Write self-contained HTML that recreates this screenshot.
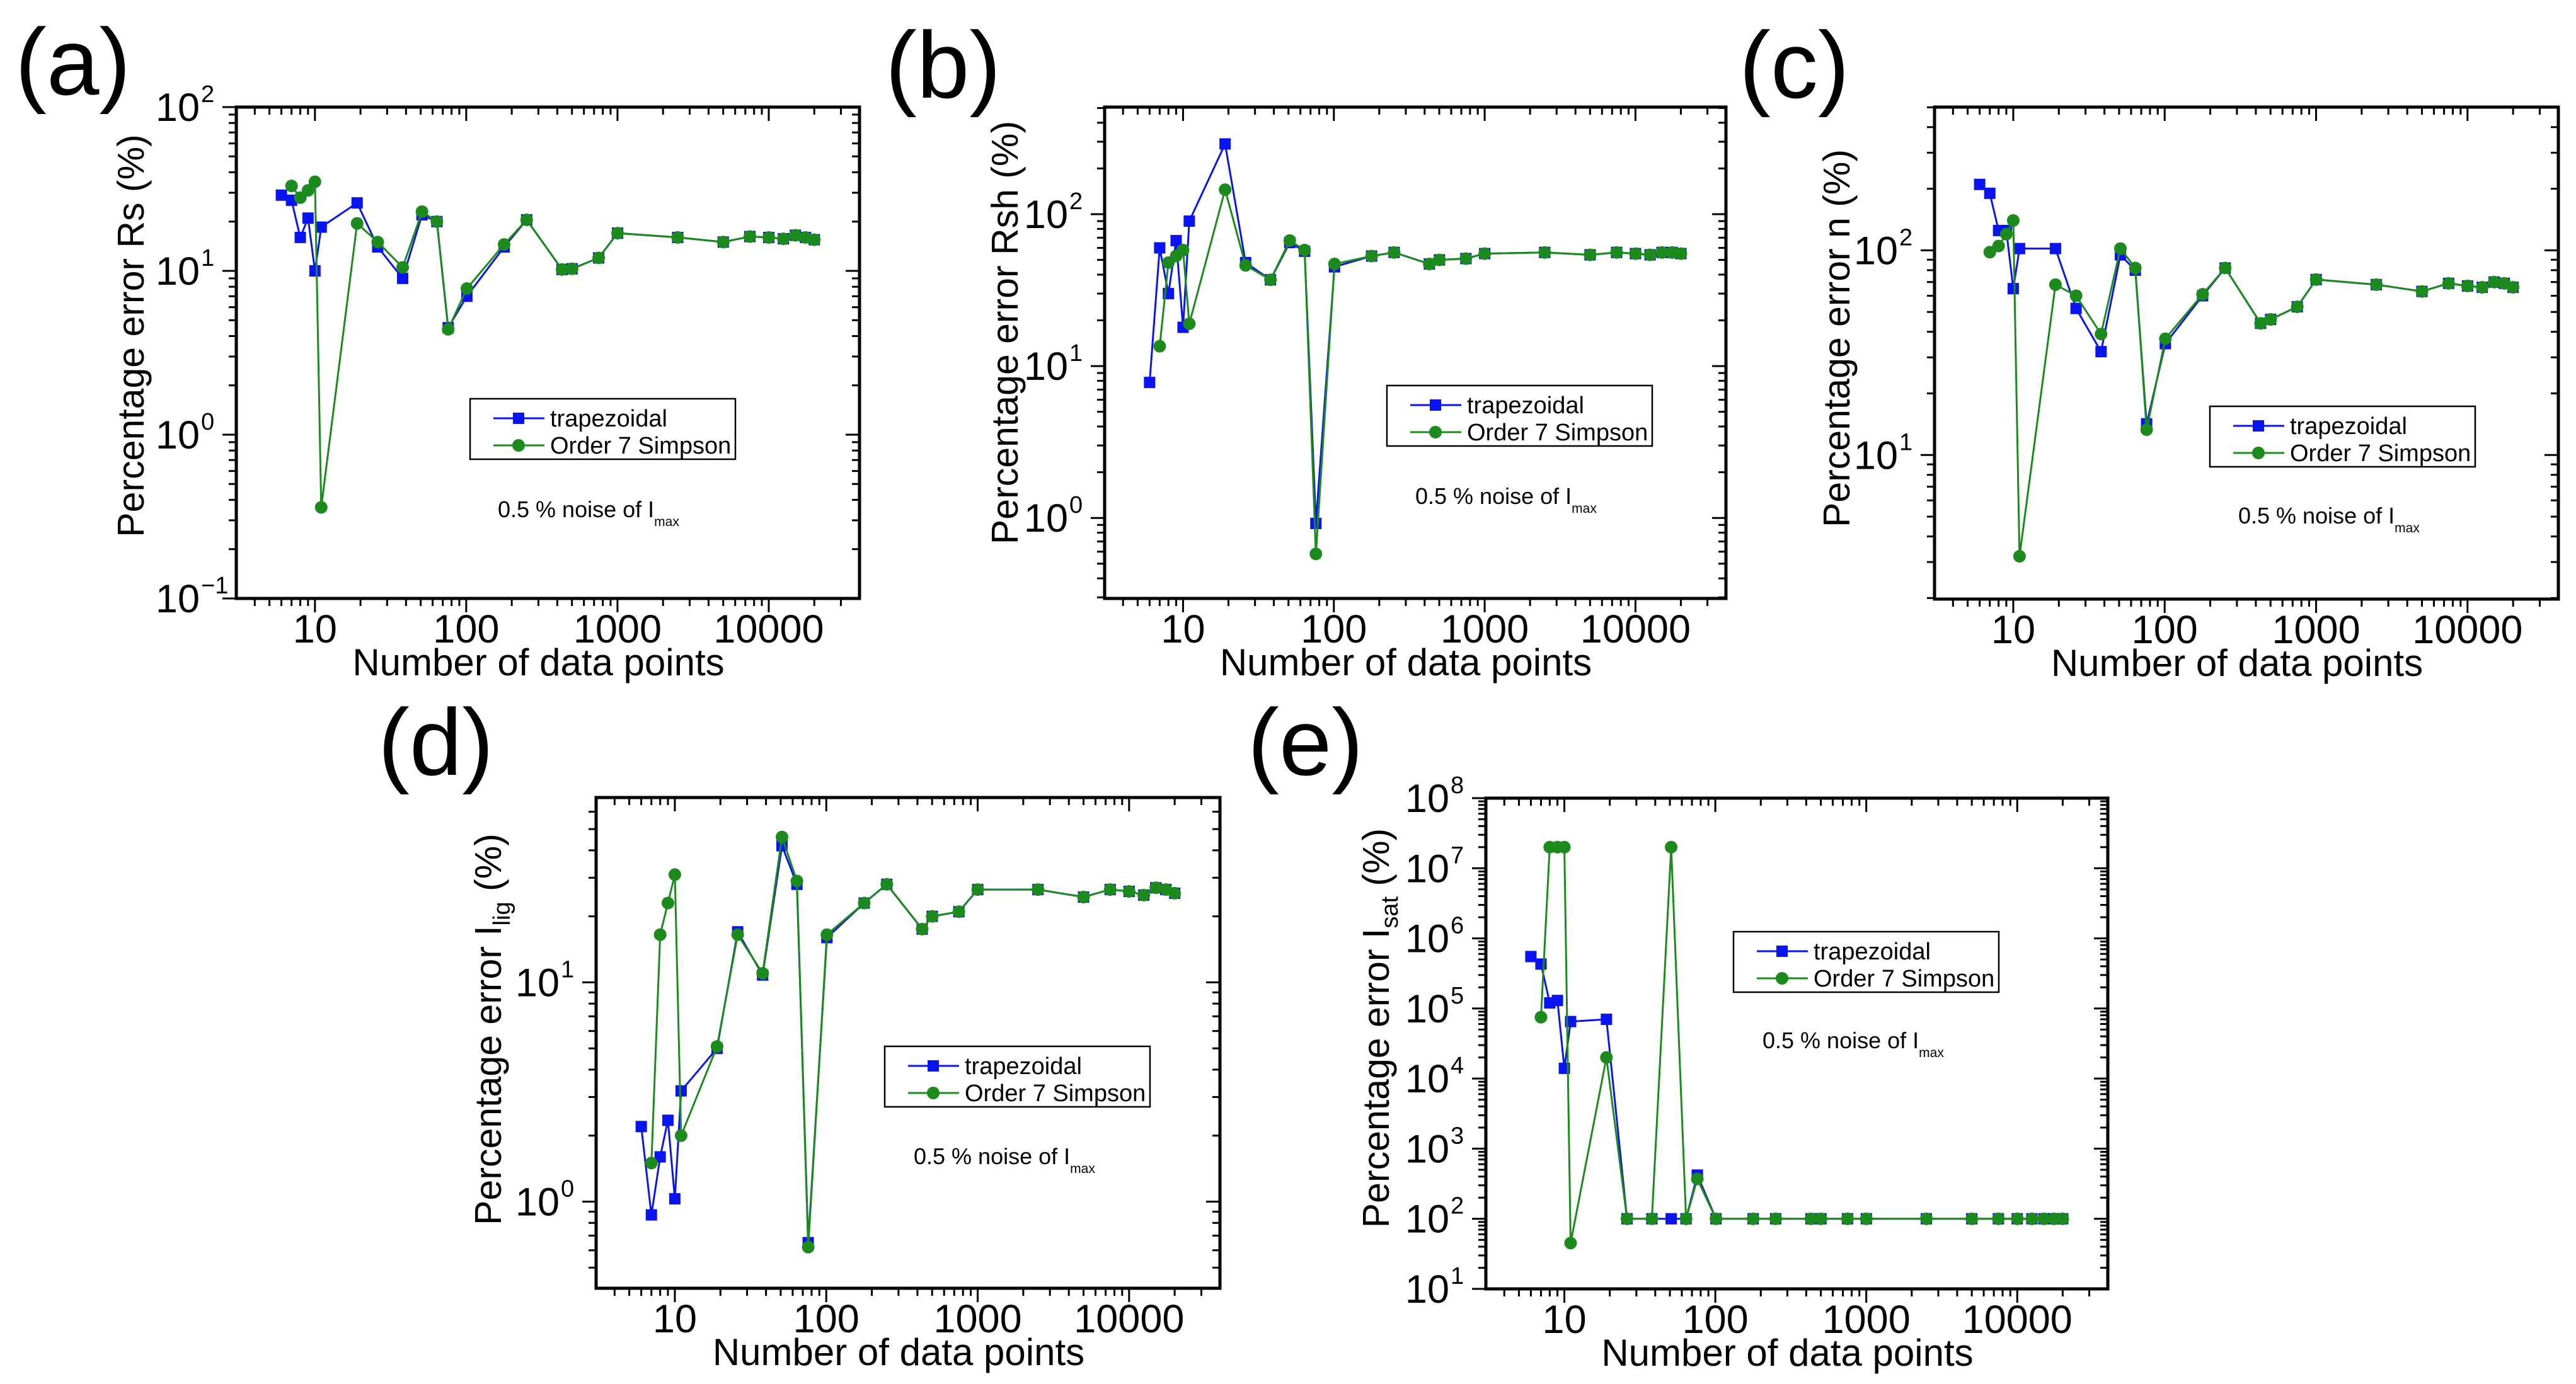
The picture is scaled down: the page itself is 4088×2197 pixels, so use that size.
<!DOCTYPE html>
<html><head><meta charset="utf-8"><style>
html,body{margin:0;padding:0;background:#fff;}
svg{display:block;font-family:"Liberation Sans",Arial,sans-serif;}
</style></head><body>
<svg id="fig" width="4088" height="2197" viewBox="0 0 4088 2197" xmlns="http://www.w3.org/2000/svg">
<rect width="4088" height="2197" fill="#fff"/>
</svg>
<script>
const N = [6,7,8,9,10,11,19,26,38,51,64,76,101,178,251,430,501,751,1001,2501,5001,7501,10001,12501,15001,17501,20001];
const xTickLabels = ["10","100","1000","10000"];
const xTickValues = [10,100,1000,10000];

const rsTrap = [29,27,16,21,10,18.5,26,14,9,22,20,4.5,7,14,20.5,10.2,10.3,12,17,16,15,16.2,16,15.7,16.5,16,15.5];
const rsSimp = [null,33,28,31,35,0.36,19.5,15,10.5,23,20,4.4,7.8,14.5,20.5,10.2,10.3,12,17,16,15,16.2,16,15.7,16.5,16,15.5];
const rshTrap = [7.8,60,30,67,18,90,290,48,37,65,57,0.92,45,53,56,47,50,51,55,56,54,56,55,54,56,56,55];
const rshSimp = [null,13.5,48,53,58,19,145,46,37,67,58,0.58,47,53,56,47,50,51,55,56,54,56,55,54,56,56,55];
const nTrap = [210,190,125,125,65,102,102,52,32,95,80,14.2,35,60,82,44,46,53,72,68,63,69,67,66,70,69,66];
const nSimp = [null,98,105,120,140,3.2,68,60,39,102,82,13.3,37,61,82,44,46,53,72,68,63,69,67,66,70,69,66];
const iligTrap = [2.2,0.87,1.6,2.35,1.03,3.2,5,17,10.8,42,28,0.65,16,23,28,17.5,20,21,26.5,26.5,24.5,26.5,26,25,27,26.5,25.5];
const iligSimp = [null,1.5,16.5,23,31,2.0,5.1,16.5,11,46,29,0.62,16.5,23,28,17.5,20,21,26.5,26.5,24.5,26.5,26,25,27,26.5,25.5];
const isatTrap = [5.5e5,4.3e5,1.2e5,1.3e5,1.4e4,6.5e4,7e4,100,100,100,100,420,100,100,100,100,100,100,100,100,100,100,100,100,100,100,100];
const isatSimp = [null,7.5e4,2e7,2e7,2e7,45,2e4,100,100,2e7,100,370,100,100,100,100,100,100,100,100,100,100,100,100,100,100,100];

const yExpA = [-1,0,1,2];
const yExpB = [0,1,2];
const yExpC = [1,2];
const yExpD = [0,1];
const yExpE = [1,2,3,4,5,6,7,8];

const NS = "http://www.w3.org/2000/svg";
const svg = document.getElementById('fig');
function mk(tag, attrs, parent){
  const e = document.createElementNS(NS, tag);
  for (const k in attrs) e.setAttribute(k, attrs[k]);
  (parent||svg).appendChild(e);
  return e;
}
const BLUE = "#0a14f0", GREEN = "#1c8a1c";

function panel(p){
  const g = mk('g', {});
  
  
  const xLo = 0.48, xHi = 4.60;
  const X = v => p.x + (Math.log10(v) - xLo) / (xHi - xLo) * p.w;
  const Y = v => p.y + p.h - (Math.log10(v) - p.ylo) / (p.yhi - p.ylo) * p.h;

  const lab = mk('text', {x:p.lx, y:p.ly, 'font-size':150, fill:'#000'}, g);
  lab.textContent = '(' + p.id + ')';
  
  

  const tg = mk('g', {stroke:'#000', 'stroke-width':3}, g);
  
  
  for (let d = 0; d <= 5; d++){
    for (let m = 1; m <= 9; m++){
      const v = m * Math.pow(10, d);
      const lv = Math.log10(v);
      if (lv < xLo || lv > xHi) continue;
      const xx = X(v), L = m === 1 ? 22 : 12;
      mk('line', {x1:xx, x2:xx, y1:p.y+p.h, y2:p.y+p.h+L}, tg);
      mk('line', {x1:xx, x2:xx, y1:p.y, y2:p.y+L}, tg);
    }
  }
  for (let d = -2; d <= 9; d++){
    for (let m = 1; m <= 9; m++){
      const v = m * Math.pow(10, d);
      const lv = Math.log10(v);
      if (lv < p.ylo - 1e-6 || lv > p.yhi + 1e-6) continue;
      const yy = Y(v), L = m === 1 ? 22 : 12;
      mk('line', {x1:p.x-L, x2:p.x, y1:yy, y2:yy}, tg);
      mk('line', {x1:p.x+p.w-L, x2:p.x+p.w, y1:yy, y2:yy}, tg);
    }
  }
  const fr = mk('rect', {x:p.x, y:p.y, width:p.w, height:p.h, fill:'none', stroke:'#000', 'stroke-width':5}, g);
  
  

  xTickValues.forEach((v, i) => {
    const t = mk('text', {x:X(v), y:p.y+p.h+70, 'font-size':63, 'text-anchor':'middle'}, g);
    t.textContent = xTickLabels[i];
    
    
  });
  p.yexp.forEach(e => {
    const t = mk('text', {x:p.x-58, y:Y(Math.pow(10, e))+22, 'font-size':63, 'text-anchor':'end'}, g);
    t.textContent = '10';
    
    
    const s = mk('text', {x:p.x-56, y:Y(Math.pow(10, e))-8, 'font-size':38, 'text-anchor':'start'}, g);
    s.textContent = String(e).replace('-', '\u2212');
    
    
  });
  const xt = mk('text', {x:p.x+p.w/2-15, y:p.y+p.h+122, 'font-size':60, 'text-anchor':'middle'}, g);
  xt.textContent = 'Number of data points';
  
  
  const yt = mk('text', {x:0, y:0, 'font-size':59, 'text-anchor':'middle', transform:'translate(' + (p.tx+18) + ',' + p.ty + ') rotate(-90)'}, g);
  
  
  yt.innerHTML = p.ytitle;

  function series(vals, color, shape, name){
    const sg = mk('g', {}, g);
    
    
    let pts = [];
    vals.forEach((v, i) => { if (v !== null) pts.push([X(N[i]), Y(v)]); });
    mk('polyline', {points: pts.map(q => q.join(',')).join(' '), fill:'none', stroke:color, 'stroke-width':3}, sg);
    pts.forEach(q => {
      let m;
      if (shape === 'sq') m = mk('rect', {x:q[0]-9, y:q[1]-9, width:18, height:18, fill:color}, sg);
      else m = mk('circle', {cx:q[0], cy:q[1], r:10, fill:color}, sg);
      
      
    });
  }
  series(p.trap, BLUE, 'sq', 'series-trapezoidal');
  series(p.simp, GREEN, 'ci', 'series-simpson');

  const lx = p.x + p.lgx, ly = p.y + p.lgy;
  const lg = mk('g', {}, g);
  
  
  mk('rect', {x:lx, y:ly, width:421, height:96, fill:'#fff', stroke:'#000', 'stroke-width':2.5}, lg);
  [[BLUE,'sq','trapezoidal',31],[GREEN,'ci','Order 7 Simpson',74]].forEach(r => {
    const e = mk('g', {}, lg);
    
    
    mk('line', {x1:lx+37, x2:lx+118, y1:ly+r[3], y2:ly+r[3], stroke:r[0], 'stroke-width':3}, e);
    if (r[1] === 'sq') mk('rect', {x:lx+68, y:ly+r[3]-9, width:18, height:18, fill:r[0]}, e);
    else mk('circle', {cx:lx+77, cy:ly+r[3], r:10, fill:r[0]}, e);
    const t = mk('text', {x:lx+127, y:ly+r[3]+13, 'font-size':38}, e);
    t.textContent = r[2];
  });
  const nt = mk('text', {x:p.x+p.nx, y:p.y+p.ny, 'font-size':36}, g);
  
  
  nt.innerHTML = '0.5 % noise of I<tspan font-size="21" dy="14">max</tspan>';
}

panel({id:'a', x:375, y:170, w:989, h:780, ylo:-1, yhi:2, yexp:yExpA, trap:rsTrap, simp:rsSimp,
  lx:24, ly:150, tx:210, ty:533, ytitle:'Percentage error Rs (%)', lgx:371, lgy:463, nx:415, ny:651});
panel({id:'b', x:1753, y:170, w:986, h:780, ylo:-0.53, yhi:2.705, yexp:yExpB, trap:rshTrap, simp:rshSimp,
  lx:1405, ly:155, tx:1597, ty:528, ytitle:'Percentage error Rsh (%)', lgx:448, lgy:442, nx:493, ny:630});
panel({id:'c', x:3070, y:170, w:990, h:781, ylo:0.296, yhi:2.70, yexp:yExpC, trap:nTrap, simp:nSimp,
  lx:2760, ly:155, tx:2917, ty:537, ytitle:'Percentage error n (%)', lgx:437, lgy:475, nx:482, ny:661});
panel({id:'d', x:946, y:1266, w:990, h:779, ylo:-0.395, yhi:1.843, yexp:yExpD, trap:iligTrap, simp:iligSimp,
  lx:600, ly:1230, tx:777, ty:1634, ytitle:'Percentage error I<tspan font-size="38" dy="14">lig</tspan><tspan dy="-14"> (%)</tspan>', lgx:458, lgy:395, nx:504, ny:582});
panel({id:'e', x:2358, y:1267, w:987, h:779, ylo:1, yhi:8, yexp:yExpE, trap:isatTrap, simp:isatSimp,
  lx:1980, ly:1230, tx:2186, ty:1632, ytitle:'Percentage error I<tspan font-size="38" dy="14">sat</tspan><tspan dy="-14"> (%)</tspan>', lgx:393, lgy:212, nx:439, ny:397});
</script>
</body></html>
